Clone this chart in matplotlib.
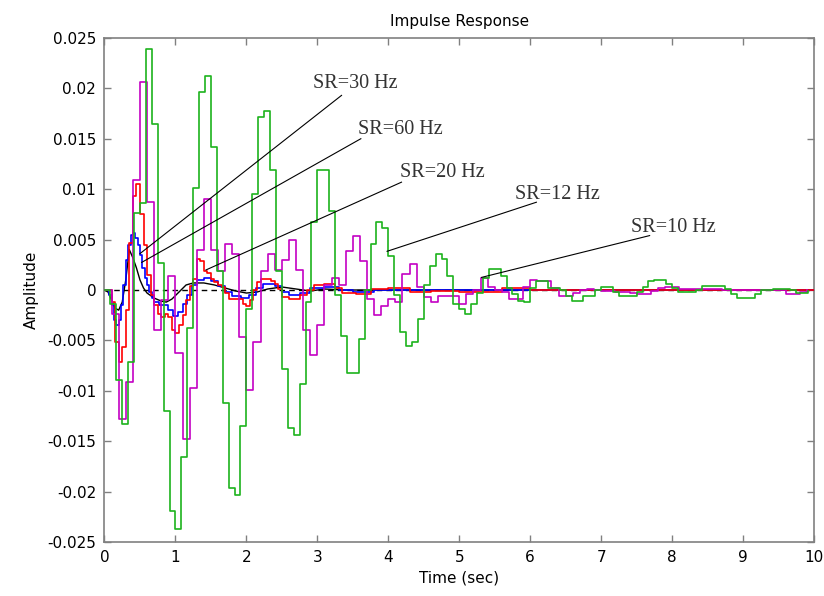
import numpy as np
import matplotlib
matplotlib.use("Agg")
import matplotlib.pyplot as plt

# ---- data (sample values, zero-order hold) ----
# SR = 12 Hz (green), one value per 1/12 s
green_vals = [
    0, -0.0014, -0.0089, -0.0133, -0.0071, 0.0076, 0.0086, 0.0239, 0.0165, 0.0027,
    -0.0120, -0.0219, -0.0237, -0.0166, -0.0038, 0.0101, 0.0196, 0.0212, 0.0142, 0.0019,
    -0.0112, -0.0196, -0.0203, -0.0135, -0.0019, 0.0095, 0.0172, 0.0178, 0.0119, 0.0019,
    -0.0078, -0.0137, -0.0144, -0.0093, -0.0012, 0.0067, 0.0119, 0.0119, 0.0078, -0.0005,
    -0.0046, -0.0082, -0.0082, -0.0049, 0.0000, 0.0046, 0.0067, 0.0062, 0.0034, -0.0005,
    -0.0042, -0.0056, -0.0052, -0.0029, 0.0005, 0.0024, 0.0036, 0.0031, 0.0014, -0.0014,
    -0.0019, -0.0024, -0.0014, -0.0003, 0.0012, 0.0021, 0.0021, 0.0014, 0.0002, -0.0004,
    -0.0011, -0.0012, 0.0002, 0.0009, 0.0009, 0.0002, 0.0002, 0.0000, -0.0006, -0.0011,
    -0.0011, -0.0006, -0.0006, 0.0000, 0.0003, 0.0003, -0.0002, -0.0006, -0.0006, -0.0006,
    -0.0002, 0.0003, 0.0009, 0.0010, 0.0010, 0.0006, 0.0002, -0.0002, -0.0002, -0.0002,
    0.0000, 0.0004, 0.0004, 0.0004, 0.0004, 0.0001, -0.0004, -0.0008, -0.0008, -0.0008,
    -0.0004, 0.0000, 0.0000, 0.0001, 0.0001, 0.0001, 0.0000, -0.0003, -0.0003, -0.0001,
]

# SR = 10 Hz (magenta), one value per 0.1 s
magenta_vals = [
    0, -0.0024, -0.0128, -0.0091, 0.0109, 0.0206, 0.0087, -0.0040, -0.0010, 0.0014,
    -0.0062, -0.0148, -0.0097, 0.0040, 0.0090, 0.0040, 0.0019, 0.0046, 0.0036, -0.0047,
    -0.0099, -0.0052, 0.0019, 0.0036, 0.0020, 0.0030, 0.0050, 0.0020, -0.0040, -0.0064,
    -0.0035, 0.0005, 0.0012, 0.0005, 0.0039, 0.0054, 0.0029, -0.0009, -0.0025, -0.0016,
    -0.0009, -0.0012, 0.0016, 0.0026, 0.0003, -0.0007, -0.0012, -0.0006, -0.0006, -0.0006,
    -0.0014, -0.0004, 0.0000, 0.0012, 0.0003, 0.0000, -0.0002, -0.0009, -0.0009, 0.0003,
    0.0010, 0.0009, 0.0009, 0.0002, -0.0006, -0.0006, -0.0003, 0.0000, 0.0001, 0.0000,
    -0.0001, -0.0001, -0.0002, -0.0002, -0.0003, -0.0004, -0.0004, -0.0001, 0.0002, 0.0003,
    0.0003, 0.0001, 0.0001, 0.0001, 0.0001, 0.0001, 0.0001, 0.0000, 0.0000, 0.0000,
    0.0000, 0.0000, 0.0000, 0.0000, 0.0000, 0.0000, -0.0004, -0.0004, -0.0002, 0.0000,
]

# SR = 20 Hz (red), change points (time, value)
red_t = [0, 0.10, 0.15, 0.20, 0.25, 0.30, 0.35, 0.40, 0.45, 0.50, 0.55, 0.60, 0.65,
         0.70, 0.75, 0.80, 0.85, 0.90, 0.95, 1.00, 1.05, 1.10, 1.15, 1.20, 1.25, 1.30,
         1.35, 1.40, 1.45, 1.50, 1.55, 1.60, 1.65, 1.70, 1.75, 1.95, 2.00, 2.05, 2.10,
         2.15, 2.20, 2.35, 2.40, 2.45, 2.50, 2.60, 2.75, 2.85, 2.95, 3.10, 3.25, 3.35,
         3.55, 3.75, 4.00, 4.30, 4.60, 5.00, 5.60, 6.00, 10.0]
red_v = [0, -0.0012, -0.0052, -0.0071, -0.0057, -0.0020, 0.0047, 0.0093, 0.0105, 0.0075,
         0.0045, 0.0015, -0.0005, -0.0015, -0.0024, -0.0027, -0.0024, -0.0027, -0.0040,
         -0.0043, -0.0035, -0.0025, -0.0010, 0.0004, 0.0011, 0.0031, 0.0029, 0.0019,
         0.0017, 0.0011, 0.0008, 0.0005, 0.0003, -0.0003, -0.0009, -0.0014, -0.0016,
         -0.0010, 0.0000, 0.0008, 0.0011, 0.0009, 0.0006, 0.0001, -0.0007, -0.0009,
         -0.0005, 0.0000, 0.0005, 0.0006, 0.0002, -0.0003, -0.0004, 0.0001, 0.0002,
         -0.0002, -0.0001, -0.0002, 0.0002, 0.0000, 0.0000]

# SR = 30 Hz (blue), change points
blue_t = [0, 0.067, 0.10, 0.133, 0.167, 0.20, 0.233, 0.267, 0.30, 0.333, 0.367, 0.40,
          0.433, 0.467, 0.50, 0.533, 0.567, 0.60, 0.633, 0.667, 0.70, 0.767, 0.90, 0.967,
          1.033, 1.10, 1.167, 1.233, 1.30, 1.40, 1.50, 1.60, 1.70, 1.80, 1.93, 2.03,
          2.13, 2.23, 2.40, 2.50, 2.60, 2.75, 2.90, 3.10, 3.30, 3.50, 3.80, 10.0]
blue_v = [0, -0.0005, -0.0015, -0.0030, -0.0035, -0.0030, -0.0015, 0.0005, 0.0030,
          0.0045, 0.0055, 0.0057, 0.0052, 0.0045, 0.0035, 0.0022, 0.0012, 0.0005,
          -0.0002, -0.0008, -0.0012, -0.0015, -0.0020, -0.0026, -0.0022, -0.0014,
          -0.0005, 0.0005, 0.0010, 0.0012, 0.0009, 0.0004, -0.0002, -0.0006, -0.0008,
          -0.0005, 0.0002, 0.0006, 0.0004, -0.0002, -0.0005, -0.0003, 0.0002, 0.0003,
          0.0000, -0.0002, 0.0000, 0.0000]

# SR = 60 Hz (black), nearly smooth
black_t = [0, 0.05, 0.10, 0.15, 0.20, 0.25, 0.30, 0.35, 0.40, 0.45, 0.50, 0.55, 0.60,
           0.70, 0.80, 0.87, 0.95, 1.05, 1.15, 1.25, 1.40, 1.55, 1.70, 1.85, 2.00, 2.15,
           2.30, 2.50, 2.70, 2.90, 3.10, 3.40, 10.0]
black_v = [0, -0.0002, -0.0010, -0.0018, -0.0020, -0.0012, 0.0010, 0.0040, 0.0032,
           0.0022, 0.0010, 0.0002, -0.0003, -0.0008, -0.0011, -0.0012, -0.0009, -0.0002,
           0.0005, 0.0007, 0.0007, 0.0005, 0.0002, -0.0001, -0.0003, -0.0002, 0.0001,
           0.0003, 0.0001, -0.0001, 0.0001, 0.0000, 0.0000]

labels = ["SR=30 Hz", "SR=60 Hz", "SR=20 Hz", "SR=12 Hz", "SR=10 Hz"]

# ---- figure ----
fig = plt.figure(figsize=(8.24, 5.96), dpi=100)
ax = fig.add_axes([0.1268, 0.0906, 0.8611, 0.8456])

t_g = np.arange(len(green_vals)) / 12.0
t_m = np.arange(len(magenta_vals)) / 10.0

ax.axhline(0, color="black", lw=1.0, ls=(0, (4, 3)), zorder=1)
ax.plot(black_t, black_v, color="black", lw=1.0, zorder=2)
ax.step(blue_t, blue_v, where="post", color="#0000ff", lw=1.2, zorder=3)
ax.step(red_t, red_v, where="post", color="#ff0000", lw=1.2, zorder=4)
ax.step(t_m, magenta_vals, where="post", color="#c400c4", lw=1.2, zorder=5)
ax.step(t_g, green_vals, where="post", color="#1db31d", lw=1.2, zorder=6)

# annotation text (baseline-left) and pointer lines
txt_pos = [(2.937, 0.02008), (3.566, 0.01544), (4.162, 0.01119), (5.782, 0.00905), (7.425, 0.00573)]
line_top = [(3.341, 0.01931), (3.613, 0.01501), (4.186, 0.0107), (6.087, 0.00871), (7.683, 0.0054)]
line_end = [(0.50, 0.00361), (0.524, 0.00274), (1.43, 0.00199), (3.983, 0.00384), (5.313, 0.00125)]
for lab, p, a, b in zip(labels, txt_pos, line_top, line_end):
    ax.text(p[0], p[1], lab, family="Liberation Serif", fontsize=14.5,
            color="#333333", ha="left", va="baseline", zorder=8)
    ax.plot([a[0], b[0]], [a[1], b[1]], color="black", lw=0.8, zorder=7)

ax.set_xlim(0, 10)
ax.set_ylim(-0.025, 0.025)
ax.set_xticks(np.arange(0, 11, 1))
ax.set_yticks(np.arange(-0.025, 0.0251, 0.005))
ax.set_yticklabels(["-0.025", "-0.02", "-0.015", "-0.01", "-0.005", "0",
                    "0.005", "0.01", "0.015", "0.02", "0.025"])
ax.tick_params(direction="in", top=True, right=True, length=5, width=1,
               color="#808080", labelsize=11, pad=6)
for s in ax.spines.values():
    s.set_color("#808080")
    s.set_linewidth(1.2)

ax.set_title("Impulse Response", fontsize=11, pad=9)
ax.set_xlabel("Time (sec)", fontsize=11, labelpad=4)
ax.set_ylabel("Amplitude", fontsize=11, labelpad=6)

fig.savefig("out.png", dpi=100)
